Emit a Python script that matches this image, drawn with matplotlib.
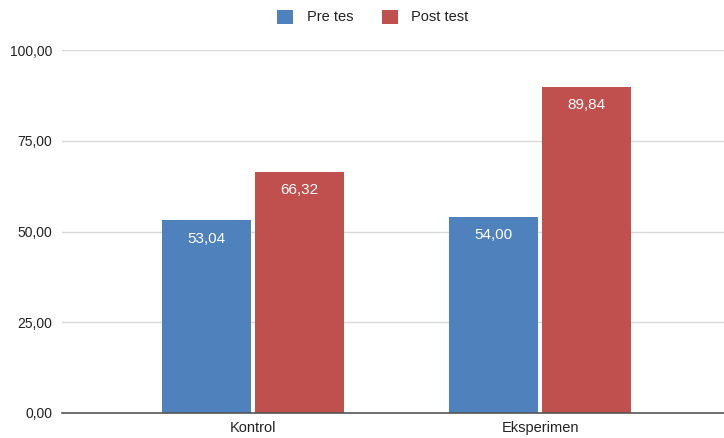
import matplotlib
matplotlib.use("Agg")
import matplotlib.pyplot as plt
import numpy as np

categories = ["Kontrol", "Eksperimen"]
series_names = ["Pre tes", "Post test"]
pre_values = [53.04, 54.00]
post_values = [66.32, 89.84]
y_ticks = [0, 25, 50, 75, 100]

colors = ["#4f81bd", "#c0504d"]

plt.rcParams['font.family'] = ['Liberation Sans', 'DejaVu Sans']

fig = plt.figure(figsize=(7.24, 4.38), dpi=100)
ax = fig.add_axes([62/724, 25/438, 662/724, 363/438])

x = np.arange(len(categories))
w = 0.312
off = 0.162
b1 = ax.bar(x - off, pre_values, w, color=colors[0], label=series_names[0], zorder=3)
b2 = ax.bar(x + off, post_values, w, color=colors[1], label=series_names[1], zorder=3)

def fmt(v):
    return f"{v:.2f}".replace(".", ",")

for bars, vals in [(b1, pre_values), (b2, post_values)]:
    for r, v in zip(bars, vals):
        ax.annotate(fmt(v), (r.get_x() + r.get_width()/2, v), xytext=(0, -8),
                    textcoords="offset points", ha="center", va="top",
                    color="white", fontsize=11, zorder=4)

ax.set_ylim(0, 100)
ax.set_xlim(-0.6655, 1.641)
ax.set_yticks(y_ticks)
ax.set_yticklabels([fmt(v) for v in y_ticks], fontsize=10, color="#222222")
ax.set_xticks(x)
ax.set_xticklabels(categories, fontsize=10.5, color="#222222")
ax.tick_params(axis="y", length=0, pad=7)
ax.tick_params(axis="x", length=0, pad=6)
ax.grid(axis="y", color="#d9d9d9", linewidth=1, zorder=0)
for s in ["top", "right", "left"]:
    ax.spines[s].set_visible(False)
ax.spines["bottom"].set_color("#555555")
ax.spines["bottom"].set_linewidth(1.2)
ax.spines["bottom"].set_zorder(5)

fig.legend(handles=[b1, b2], labels=series_names, loc="center", bbox_to_anchor=(373/724, 1 - 17/438),
           ncol=2, frameon=False, fontsize=10.5, handlelength=1.1, handleheight=1.1,
           columnspacing=2.0, handletextpad=0.9, labelcolor="#222222")

fig.savefig("out.png", dpi=100)
